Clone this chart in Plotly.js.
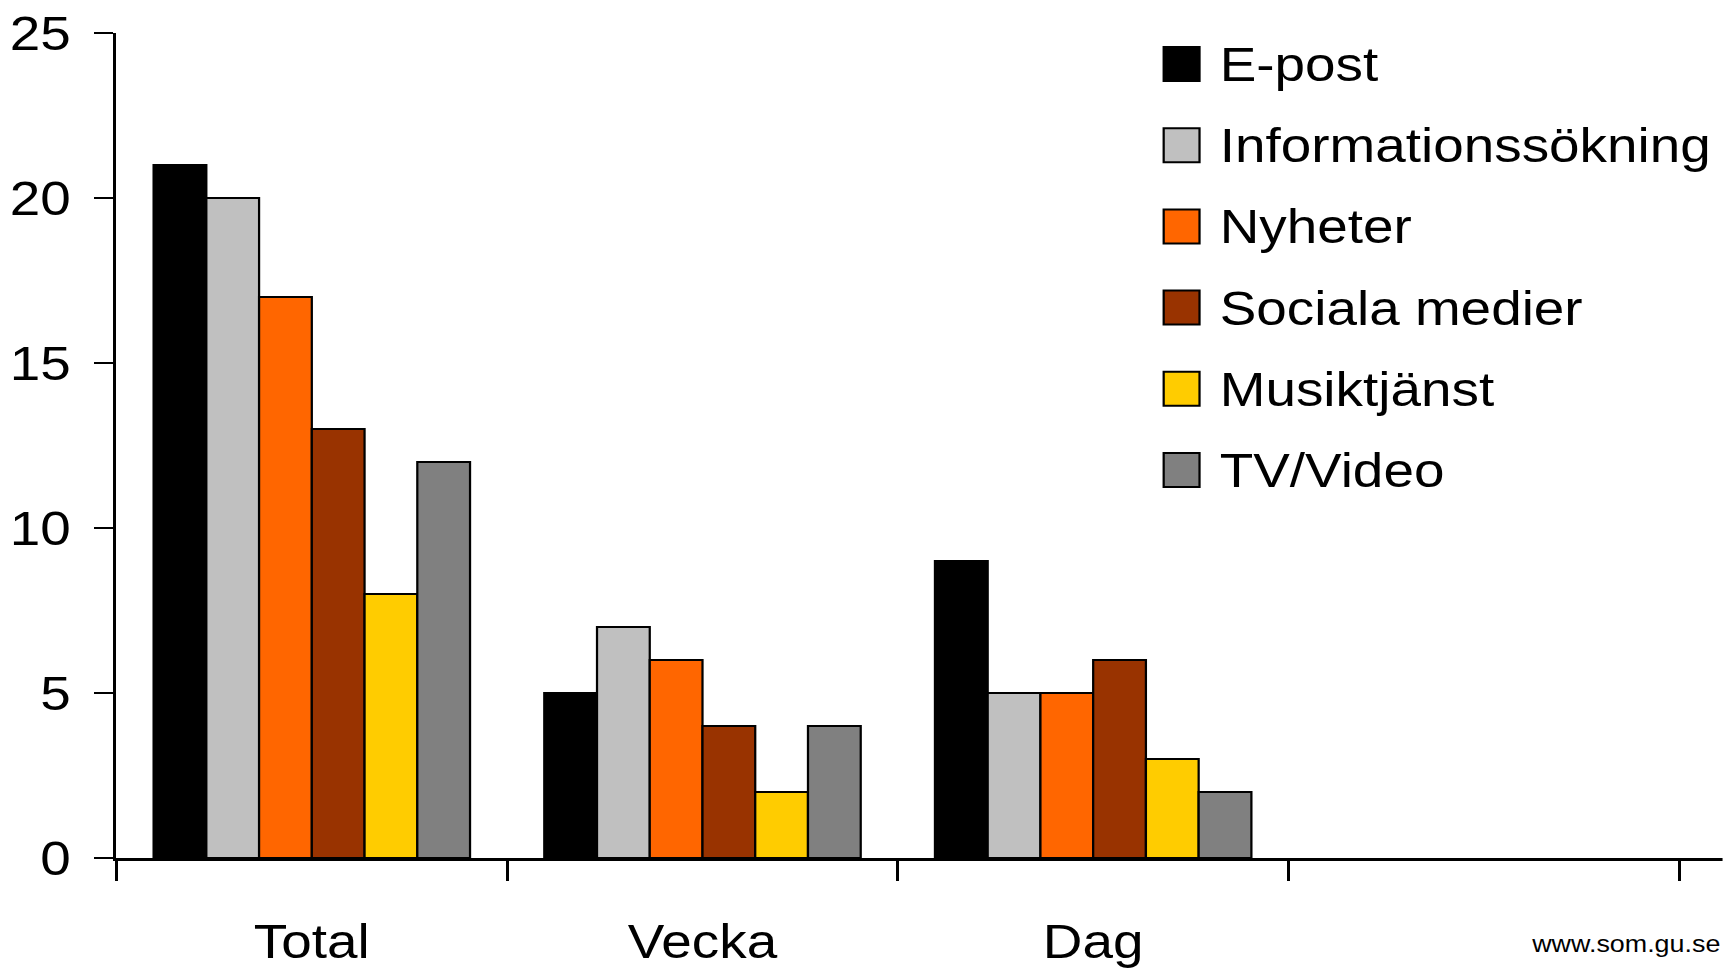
<!DOCTYPE html>
<html>
<head>
<meta charset="utf-8">
<script src="https://cdn.plot.ly/plotly-3.0.1.min.js"></script>
<style>
  html, body { margin: 0; padding: 0; background: #ffffff; overflow: hidden; }
  #chart { width: 1538px; height: 968px; transform: scaleX(1.12); transform-origin: 0 0; }
</style>
</head>
<body>
<div id="chart"></div>
<script>
// ---- data ----
const categories = ["Total", "Vecka", "Dag", " "];
const seriesNames = ["E-post", "Informationssökning", "Nyheter", "Sociala medier", "Musiktjänst", "TV/Video"];
const seriesColors = ["#000000", "#C0C0C0", "#FF6600", "#993300", "#FFCC00", "#808080"];
const ePost = [21, 5, 9];
const informationssokning = [20, 7, 5];
const nyheter = [17, 6, 5];
const socialaMedier = [13, 4, 6];
const musiktjanst = [8, 2, 3];
const tvVideo = [12, 4, 2];
const yTickVals = [0, 5, 10, 15, 20, 25];
const sourceText = "www.som.gu.se";

const seriesValues = [ePost, informationssokning, nyheter, socialaMedier, musiktjanst, tvVideo];

// ---- geometry (unscaled px) ----
const W = 1538, H = 968;
const M = { l: 104, r: 0, t: 33, b: 110 };
const plotW = W - M.l - M.r, plotH = H - M.t - M.b;
const px2x = x => (x - M.l) / plotW;
const px2y = y => 1 - (y - M.t) / plotH;

const FONT = '"Liberation Sans", Arial, Helvetica, sans-serif';

const traces = seriesNames.map((name, i) => ({
  type: 'bar',
  name: name,
  x: categories.slice(0, seriesValues[i].length),
  y: seriesValues[i],
  marker: { color: seriesColors[i], line: { color: '#000000', width: 2 } },
  showlegend: false,
  hoverinfo: 'x+y+name'
}));

// manual legend (large squares like the original)
const shapes = [];
const annotations = [];
const legTop = 64, legStep = 81.2, sqW = 32, sqH = 34, sqLeft = 1039, txtLeft = 1087;
seriesNames.forEach((name, i) => {
  const cy = legTop + legStep * i;
  shapes.push({
    type: 'rect', xref: 'paper', yref: 'paper',
    x0: px2x(sqLeft), x1: px2x(sqLeft + sqW),
    y0: px2y(cy + sqH / 2), y1: px2y(cy - sqH / 2),
    fillcolor: seriesColors[i], line: { color: '#000000', width: 2 }
  });
  annotations.push({
    xref: 'paper', yref: 'paper', x: px2x(txtLeft), y: px2y(cy),
    xanchor: 'left', yanchor: 'middle', showarrow: false,
    text: name, font: { family: FONT, size: 49, color: '#000000' }
  });
});
annotations.push({
  xref: 'paper', yref: 'paper', x: px2x(1365), y: px2y(959),
  xanchor: 'left', yanchor: 'bottom', showarrow: false,
  text: sourceText, font: { family: FONT, size: 24, color: '#000000' }
});

const layout = {
  width: W, height: H,
  margin: M,
  paper_bgcolor: '#ffffff', plot_bgcolor: '#ffffff',
  font: { family: FONT, color: '#000000' },
  barmode: 'group', bargap: 0.19, bargroupgap: 0,
  showlegend: false,
  xaxis: {
    type: 'category',
    categoryorder: 'array', categoryarray: categories,
    range: [-0.5, 3.611],
    showline: true, linecolor: '#000000', linewidth: 3,
    ticks: 'outside', ticklen: 20, tickwidth: 2.5, tickcolor: '#000000',
    tickson: 'boundaries',
    showgrid: false, zeroline: false,
    tickfont: { family: FONT, size: 49, color: '#000000' },
    ticklabelstandoff: 38
  },
  yaxis: {
    range: [0, 25],
    tickvals: yTickVals,
    showline: true, linecolor: '#000000', linewidth: 3,
    ticks: 'outside', ticklen: 17, tickwidth: 2.5, tickcolor: '#000000',
    showgrid: false, zeroline: false,
    tickfont: { family: FONT, size: 49, color: '#000000' },
    ticklabelstandoff: 11
  },
  shapes: shapes,
  annotations: annotations
};

Plotly.newPlot('chart', traces, layout, { staticPlot: true, displayModeBar: false });
</script>
</body>
</html>
